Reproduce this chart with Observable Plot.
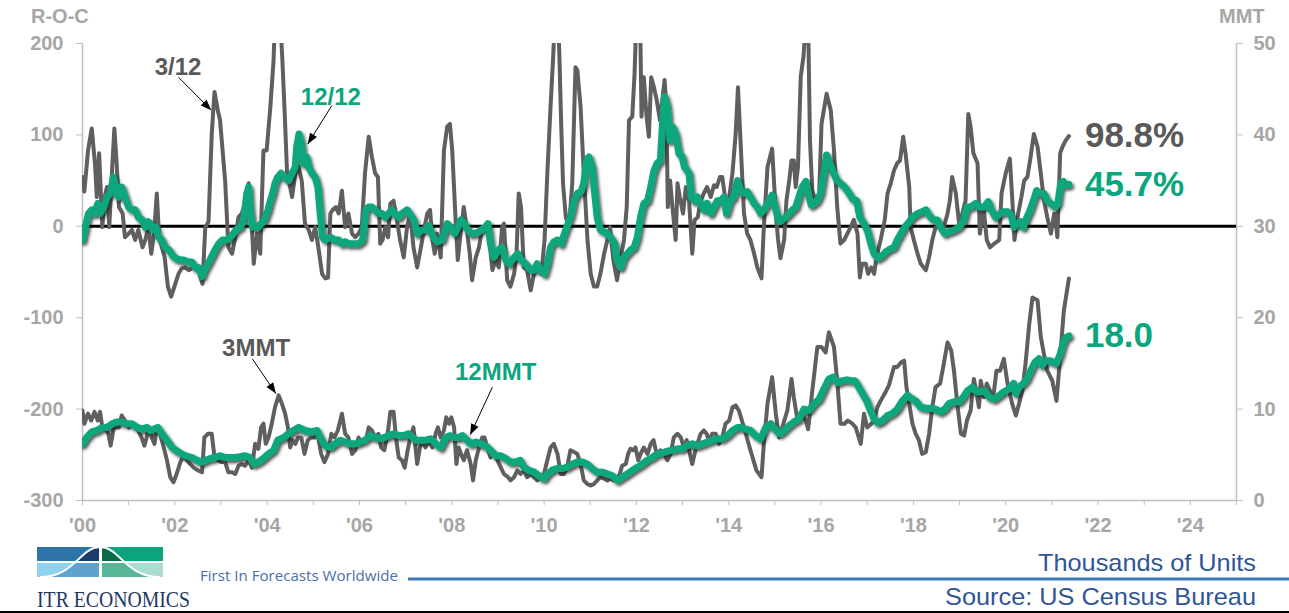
<!DOCTYPE html>
<html>
<head>
<meta charset="utf-8">
<script src="https://cdn.jsdelivr.net/npm/d3@7"></script>
<script src="https://cdn.jsdelivr.net/npm/@observablehq/plot@0.6"></script>
<style>
  html, body { margin: 0; padding: 0; background: #fff; }
  #wrap { position: relative; width: 1289px; height: 613px; overflow: hidden; font-family: "Liberation Sans", Arial, sans-serif; }
  #chart { position: absolute; left: 0; top: 0; }
  .axis-title { position: absolute; top: 5px; font-size: 20px; font-weight: bold; color: #a6a6a6; }
  #footer { position: absolute; left: 0; top: 540px; }
</style>
</head>
<body>
<div id="wrap">
  <div id="chart"></div>
  <div class="axis-title" style="left:31px">R-O-C</div>
  <div class="axis-title" style="left:1219px">MMT</div>
  <svg id="footer" width="1289" height="73" viewBox="0 0 1289 73">
    <defs>
      <clipPath id="bell">
        <path d="M37,37 L40,37 C75,37 80,7 100,7 C120,7 125,37 160,37 L163,37 Z"/>
      </clipPath>
    </defs>
    <!-- logo tiles: outer tone, then the tone under the bell curve -->
    <rect x="37" y="7" width="62" height="14" fill="#2f74a9"/>
    <rect x="102" y="7" width="61" height="14" fill="#0aa57c"/>
    <rect x="37" y="23" width="62" height="14" fill="#8fd2f0"/>
    <rect x="102" y="23" width="61" height="14" fill="#a9ddd2"/>
    <g clip-path="url(#bell)">
      <rect x="37" y="7" width="62" height="14" fill="#1b3b6a"/>
      <rect x="102" y="7" width="61" height="14" fill="#0b6a46"/>
      <rect x="37" y="23" width="62" height="14" fill="#5ea3d0"/>
      <rect x="102" y="23" width="61" height="14" fill="#57b698"/>
    </g>
    <path d="M40,37 C75,37 80,7 100,7 C120,7 125,37 160,37" fill="none" stroke="#fff" stroke-width="2"/>
    <text x="37" y="67" font-family="'Liberation Serif', 'Times New Roman', serif" font-size="23" fill="#1f3864" textLength="153" lengthAdjust="spacingAndGlyphs">ITR ECONOMICS</text>
    <text x="200" y="41" font-family="'Open Sans', 'Noto Sans', sans-serif" font-size="14.5" fill="#4a6fa8" textLength="198" lengthAdjust="spacingAndGlyphs">First In Forecasts Worldwide</text>
    <line x1="408" y1="39" x2="1289" y2="39" stroke="#3b79b7" stroke-width="3"/>
    <text x="1256" y="31" text-anchor="end" font-family="'Liberation Sans', Arial, sans-serif" font-size="24" fill="#2f5597" textLength="218" lengthAdjust="spacingAndGlyphs">Thousands of Units</text>
    <text x="1256" y="65" text-anchor="end" font-family="'Liberation Sans', Arial, sans-serif" font-size="24" fill="#2f5597" textLength="311" lengthAdjust="spacingAndGlyphs">Source: US Census Bureau</text>
    <line x1="0" y1="72" x2="1289" y2="72" stroke="#000" stroke-width="2"/>
  </svg>
</div>
<script>
// 3/12 rate-of-change (%), [decimal year, value]
const rate312 = [
  [2000.00,54],[2000.04,38],[2000.12,83],[2000.20,107],[2000.27,69],[2000.31,32],[2000.36,80],[2000.43,-1],[2000.48,32],[2000.53,43],[2000.58,-1],[2000.64,61],[2000.69,107],[2000.74,69],[2000.79,21],[2000.87,14],[2000.92,-12],
  [2001.00,-8],[2001.07,-4],[2001.14,-15],[2001.21,-4],[2001.30,-23],[2001.36,-15],[2001.43,-1],[2001.49,-30],[2001.55,-8],[2001.61,36],[2001.66,-12],[2001.72,-23],[2001.78,-34],[2001.85,-66],[2001.92,-77],
  [2002.01,-63],[2002.08,-52],[2002.15,-46],[2002.22,-45],[2002.30,-48],[2002.41,-45],[2002.51,-48],[2002.60,-63],[2002.66,-1],[2002.73,5],[2002.80,101],[2002.86,147],[2002.93,127],[2002.98,116],
  [2003.09,50],[2003.16,-23],[2003.24,-30],[2003.31,-12],[2003.38,10],[2003.45,14],[2003.52,25],[2003.60,47],[2003.65,18],[2003.71,-41],[2003.78,-8],[2003.85,-30],[2003.92,83],[2003.99,83],
  [2004.07,131],[2004.14,182],[2004.17,230],[2004.28,230],[2004.33,182],[2004.39,112],[2004.43,61],[2004.54,32],[2004.61,58],[2004.68,65],[2004.75,50],[2004.82,3],[2004.90,-4],[2004.97,-15],
  [2005.04,-1],[2005.11,-23],[2005.19,-52],[2005.26,-57],[2005.32,-56],[2005.37,14],[2005.42,18],[2005.49,21],[2005.55,14],[2005.62,39],[2005.69,-1],[2005.76,14],[2005.84,-8],[2005.91,-12],[2005.98,-8],
  [2006.05,-1],[2006.12,58],[2006.20,98],[2006.27,76],[2006.34,58],[2006.40,54],[2006.45,-19],[2006.50,-15],[2006.56,-1],[2006.62,-12],[2006.67,25],[2006.74,28],[2006.81,7],[2006.88,-15],[2006.96,-34],
  [2007.03,-1],[2007.10,14],[2007.17,-23],[2007.25,-45],[2007.32,-26],[2007.41,-1],[2007.47,14],[2007.53,18],[2007.58,-15],[2007.63,-30],[2007.68,-8],[2007.76,-34],[2007.83,83],[2007.90,109],[2007.96,112],
  [2008.01,83],[2008.08,10],[2008.13,-37],[2008.19,-8],[2008.26,21],[2008.32,-1],[2008.39,-30],[2008.44,-59],[2008.52,-34],[2008.59,-23],[2008.66,-1],[2008.73,-4],[2008.80,-8],[2008.88,-48],[2008.95,-37],
  [2009.02,-45],[2009.09,-1],[2009.13,3],[2009.20,-59],[2009.27,-66],[2009.35,-52],[2009.40,-34],[2009.45,36],[2009.50,21],[2009.56,-45],[2009.63,-48],[2009.71,-70],[2009.78,-52],[2009.85,-45],[2009.94,-52],
  [2010.01,-15],[2010.07,58],[2010.14,131],[2010.20,189],[2010.23,230],[2010.30,230],[2010.33,189],[2010.37,112],[2010.41,47],[2010.47,10],[2010.54,-1],[2010.61,47],[2010.68,174],[2010.72,171],[2010.79,131],[2010.86,58],[2010.94,-15],
  [2011.01,-52],[2011.08,-66],[2011.15,-66],[2011.22,-52],[2011.30,-30],[2011.37,-15],[2011.43,-1],[2011.50,-37],[2011.58,-59],[2011.66,-34],[2011.73,-15],[2011.79,21],[2011.84,116],[2011.91,120],[2011.96,167],
  [2012.00,230],[2012.08,230],[2012.11,120],[2012.16,163],[2012.22,120],[2012.27,98],[2012.32,163],[2012.38,152],[2012.44,138],[2012.51,116],[2012.56,138],[2012.61,160],[2012.65,131],[2012.68,21],[2012.73,50],[2012.78,21],[2012.85,-15],[2012.89,47],[2012.94,32],
  [2013.01,14],[2013.07,43],[2013.14,28],[2013.21,-30],[2013.26,7],[2013.33,10],[2013.39,28],[2013.46,36],[2013.53,43],[2013.61,32],[2013.68,45],[2013.74,43],[2013.81,54],[2013.86,54],[2013.93,28],
  [2014.00,28],[2014.08,58],[2014.15,101],[2014.20,152],[2014.33,14],[2014.40,-8],[2014.47,-15],[2014.55,-30],[2014.62,-45],[2014.71,-57],[2014.76,-1],[2014.84,65],[2014.94,85],
  [2015.02,14],[2015.07,-15],[2015.12,-35],[2015.20,-15],[2015.25,28],[2015.31,50],[2015.36,72],[2015.41,72],[2015.45,43],[2015.50,65],[2015.56,164],[2015.62,186],[2015.67,225],[2015.72,225],[2015.76,94],[2015.81,39],[2015.88,28],[2015.96,36],
  [2016.01,112],[2016.12,145],[2016.21,127],[2016.28,83],[2016.35,21],[2016.42,-19],[2016.50,-15],[2016.57,-8],[2016.64,-1],[2016.71,7],[2016.79,-8],[2016.84,-56],[2016.89,-41],[2016.97,-41],
  [2017.02,-52],[2017.09,-45],[2017.15,-52],[2017.20,-34],[2017.29,-15],[2017.38,7],[2017.44,36],[2017.51,47],[2017.58,61],[2017.65,69],[2017.71,72],[2017.78,98],[2017.83,80],[2017.91,43],[2017.94,-1],
  [2018.01,-15],[2018.09,-30],[2018.16,-41],[2018.27,-48],[2018.34,-34],[2018.41,-15],[2018.48,-1],[2018.58,-1],[2018.66,-1],[2018.74,14],[2018.79,28],[2018.84,54],[2018.92,36],[2018.99,3],
  [2019.06,14],[2019.13,28],[2019.19,123],[2019.24,109],[2019.30,80],[2019.39,69],[2019.44,-8],[2019.52,21],[2019.59,-15],[2019.66,-23],[2019.75,-19],[2019.86,-15],[2019.91,36],
  [2020.00,58],[2020.09,74],[2020.14,32],[2020.19,-15],[2020.27,14],[2020.34,32],[2020.40,50],[2020.47,54],[2020.54,76],[2020.61,101],[2020.69,87],[2020.76,58],[2020.83,28],[2020.90,10],[2020.98,-8],
  [2021.05,14],[2021.08,7],[2021.12,-12],[2021.18,80],[2021.23,87],[2021.30,94],[2021.37,98.8]
];

// 12/12 rate-of-change (%)
const rate1212 = [
  [2000.00,-15],[2000.06,-1],[2000.13,14],[2000.20,18],[2000.26,14],[2000.33,25],[2000.38,14],[2000.46,21],[2000.53,32],[2000.60,36],[2000.67,54],[2000.72,43],[2000.78,32],[2000.85,43],[2000.92,32],
  [2001.00,21],[2001.07,18],[2001.14,18],[2001.21,10],[2001.29,7],[2001.36,-1],[2001.42,5],[2001.47,3],[2001.52,-4],[2001.59,-1],[2001.65,-12],[2001.72,-15],[2001.79,-23],[2001.88,-26],[2001.95,-32],
  [2002.02,-35],[2002.12,-37],[2002.19,-37],[2002.30,-39],[2002.37,-39],[2002.44,-45],[2002.51,-45],[2002.59,-55],[2002.64,-48],[2002.72,-41],[2002.79,-34],[2002.87,-26],[2002.95,-19],
  [2003.03,-15],[2003.13,-15],[2003.20,-12],[2003.27,-8],[2003.34,-3],[2003.42,-1],[2003.49,7],[2003.56,36],[2003.60,43],[2003.63,21],[2003.68,-1],[2003.74,1],[2003.81,-1],[2003.87,3],[2003.94,7],
  [2004.02,18],[2004.07,28],[2004.12,36],[2004.17,47],[2004.23,54],[2004.30,58],[2004.38,54],[2004.46,50],[2004.54,58],[2004.61,65],[2004.64,87],[2004.69,101],[2004.74,91],[2004.79,69],[2004.85,76],[2004.90,65],[2004.97,58],
  [2005.04,54],[2005.10,43],[2005.15,14],[2005.20,-12],[2005.26,-15],[2005.37,-12],[2005.46,-15],[2005.55,-15],[2005.62,-19],[2005.69,-17],[2005.76,-19],[2005.87,-19],[2005.98,-19],
  [2006.07,-15],[2006.14,18],[2006.20,21],[2006.27,21],[2006.34,18],[2006.41,14],[2006.49,14],[2006.56,10],[2006.63,14],[2006.70,18],[2006.77,14],[2006.85,10],[2006.92,14],
  [2007.03,18],[2007.18,7],[2007.25,-8],[2007.36,-4],[2007.43,-4],[2007.50,1],[2007.58,-10],[2007.68,-17],[2007.79,-15],[2007.90,3],[2007.97,-1],
  [2008.06,-8],[2008.13,-1],[2008.20,7],[2008.28,3],[2008.35,-4],[2008.42,-8],[2008.49,-8],[2008.59,-6],[2008.66,-3],[2008.73,-1],[2008.78,3],[2008.84,-19],[2008.91,-34],
  [2009.00,-26],[2009.09,-23],[2009.17,-37],[2009.24,-41],[2009.35,-34],[2009.43,-30],[2009.50,-37],[2009.60,-41],[2009.71,-48],[2009.78,-48],[2009.85,-41],[2009.92,-48],
  [2010.01,-52],[2010.07,-41],[2010.14,-23],[2010.21,-17],[2010.29,-15],[2010.37,-19],[2010.44,-8],[2010.52,3],[2010.59,14],[2010.65,28],[2010.72,36],[2010.80,38],[2010.86,47],[2010.92,72],[2010.97,76],
  [2011.04,65],[2011.09,39],[2011.15,10],[2011.22,-4],[2011.30,-6],[2011.37,-8],[2011.44,-12],[2011.53,-19],[2011.58,-37],[2011.66,-45],[2011.73,-34],[2011.80,-30],[2011.87,-26],[2011.95,-23],
  [2012.02,-12],[2012.09,10],[2012.16,25],[2012.24,28],[2012.31,43],[2012.38,61],[2012.45,69],[2012.52,72],[2012.57,116],[2012.61,142],[2012.67,131],[2012.73,94],[2012.78,109],[2012.85,101],[2012.92,80],[2012.99,76],
  [2013.04,65],[2013.14,58],[2013.19,32],[2013.25,28],[2013.32,32],[2013.39,25],[2013.46,18],[2013.53,25],[2013.61,14],[2013.68,21],[2013.75,28],[2013.82,28],[2013.90,32],[2013.95,14],
  [2014.03,28],[2014.11,32],[2014.19,50],[2014.26,39],[2014.33,36],[2014.40,38],[2014.47,32],[2014.55,25],[2014.62,21],[2014.69,14],[2014.76,18],[2014.84,25],[2014.94,34],
  [2015.02,18],[2015.09,5],[2015.16,7],[2015.23,10],[2015.31,14],[2015.38,18],[2015.45,21],[2015.52,32],[2015.59,43],[2015.67,49],[2015.74,32],[2015.79,23],[2015.85,25],[2015.92,28],[2015.99,36],
  [2016.06,58],[2016.12,78],[2016.19,69],[2016.27,58],[2016.35,50],[2016.42,47],[2016.51,43],[2016.61,36],[2016.68,30],[2016.77,28],[2016.84,10],[2016.93,3],
  [2017.00,-4],[2017.08,-19],[2017.15,-30],[2017.23,-35],[2017.33,-32],[2017.40,-28],[2017.49,-25],[2017.58,-23],[2017.65,-15],[2017.73,-8],[2017.81,-1],[2017.91,5],[2017.98,10],
  [2018.09,14],[2018.19,16],[2018.27,18],[2018.34,12],[2018.43,7],[2018.52,7],[2018.59,-1],[2018.68,-8],[2018.77,-6],[2018.88,-4],[2018.99,-1],
  [2019.08,5],[2019.16,21],[2019.24,21],[2019.35,25],[2019.44,21],[2019.53,21],[2019.62,27],[2019.69,18],[2019.78,10],[2019.88,14],[2019.96,16],
  [2020.04,16],[2020.12,12],[2020.18,-1],[2020.25,3],[2020.33,5],[2020.38,-1],[2020.46,10],[2020.53,18],[2020.60,28],[2020.67,39],[2020.74,36],[2020.83,36],[2020.90,28],[2020.98,25],
  [2021.08,21],[2021.13,25],[2021.19,47],[2021.25,49],[2021.30,45],[2021.37,45.7]
];

// 3-month moving total (thousands of units)
const total3 = [
  [2000.00,9.85],[2000.04,8.4],[2000.12,9.5],[2000.19,8.75],[2000.26,9.7],[2000.33,8.75],[2000.38,9.7],[2000.43,8.0],[2000.49,8.0],[2000.56,7.3],[2000.61,6.0],[2000.67,7.8],[2000.72,8.0],[2000.79,8.0],[2000.85,9.3],[2000.92,8.75],
  [2001.00,8.0],[2001.07,8.4],[2001.14,8.0],[2001.21,7.66],[2001.29,6.75],[2001.34,6.0],[2001.39,6.9],[2001.44,8.0],[2001.50,6.9],[2001.56,6.2],[2001.61,8.0],[2001.68,7.3],[2001.76,5.8],[2001.83,4.4],[2001.90,2.55],[2001.97,2.0],
  [2002.04,2.9],[2002.12,4.2],[2002.19,4.9],[2002.26,4.4],[2002.33,4.0],[2002.41,3.6],[2002.50,3.3],[2002.59,3.1],[2002.64,6.9],[2002.72,7.3],[2002.80,7.3],[2002.86,4.7],[2002.93,4.4],
  [2003.00,4.2],[2003.09,4.2],[2003.16,3.1],[2003.24,3.1],[2003.31,2.9],[2003.38,3.8],[2003.45,4.0],[2003.52,3.8],[2003.60,4.4],[2003.67,3.6],[2003.74,6.2],[2003.81,5.65],[2003.87,8.0],[2003.92,8.4],[2003.97,6.2],
  [2004.03,6.9],[2004.10,8.4],[2004.17,10.2],[2004.25,11.5],[2004.32,10.6],[2004.39,9.5],[2004.45,8.0],[2004.50,5.8],[2004.55,6.6],[2004.61,6.2],[2004.67,6.9],[2004.74,6.9],[2004.81,5.1],[2004.88,6.6],[2004.95,6.9],
  [2005.03,6.9],[2005.10,7.1],[2005.17,5.1],[2005.24,4.2],[2005.32,5.1],[2005.39,7.3],[2005.46,6.9],[2005.53,7.66],[2005.62,9.5],[2005.69,7.3],[2005.76,6.9],[2005.84,5.1],[2005.91,5.5],[2005.98,6.9],
  [2006.05,6.2],[2006.14,6.6],[2006.20,8.0],[2006.27,7.66],[2006.34,6.9],[2006.41,7.3],[2006.47,5.8],[2006.54,5.5],[2006.62,7.66],[2006.67,9.7],[2006.74,9.7],[2006.79,6.9],[2006.85,4.7],[2006.92,4.4],[2006.98,3.6],
  [2007.03,5.1],[2007.10,6.9],[2007.17,8.0],[2007.25,4.0],[2007.31,5.8],[2007.36,6.6],[2007.43,5.8],[2007.50,6.6],[2007.58,5.8],[2007.65,7.3],[2007.70,8.0],[2007.76,6.9],[2007.83,7.66],[2007.88,9.1],[2007.94,8.4],[2007.99,9.1],
  [2008.05,8.0],[2008.10,4.0],[2008.15,5.8],[2008.20,5.1],[2008.26,4.4],[2008.33,5.5],[2008.41,4.0],[2008.46,2.2],[2008.52,4.4],[2008.59,5.8],[2008.66,6.9],[2008.71,6.9],[2008.77,5.8],[2008.84,4.7],[2008.91,5.1],[2008.99,4.4],
  [2009.06,3.65],[2009.13,2.9],[2009.22,2.55],[2009.27,2.2],[2009.35,2.55],[2009.42,3.3],[2009.49,2.9],[2009.56,3.3],[2009.63,2.55],[2009.71,2.9],[2009.78,2.55],[2009.85,2.2],[2009.92,2.55],[2009.98,2.55],
  [2010.07,4.4],[2010.14,5.8],[2010.21,6.2],[2010.29,5.1],[2010.36,2.9],[2010.43,2.9],[2010.50,3.65],[2010.57,5.5],[2010.65,5.3],[2010.72,5.1],[2010.79,4.0],[2010.86,2.2],[2010.94,1.8],
  [2011.01,1.65],[2011.08,1.8],[2011.15,2.2],[2011.22,2.55],[2011.30,2.4],[2011.37,2.2],[2011.44,2.4],[2011.51,2.2],[2011.58,2.4],[2011.64,2.9],[2011.69,3.8],[2011.77,4.0],[2011.82,5.1],[2011.87,5.65],[2011.93,5.5],[2011.98,5.8],
  [2012.04,4.4],[2012.09,5.1],[2012.16,5.8],[2012.24,5.1],[2012.31,6.2],[2012.37,6.6],[2012.42,5.5],[2012.47,4.9],[2012.52,5.5],[2012.60,5.1],[2012.67,4.4],[2012.74,5.1],[2012.81,6.9],[2012.89,7.3],[2012.96,6.9],
  [2013.03,5.8],[2013.09,6.6],[2013.14,5.5],[2013.21,4.0],[2013.26,5.1],[2013.32,6.2],[2013.39,7.3],[2013.46,7.66],[2013.52,7.3],[2013.57,6.6],[2013.64,7.3],[2013.72,7.3],[2013.79,6.2],[2013.86,6.9],[2013.93,8.4],
  [2014.01,8.75],[2014.08,10.2],[2014.15,10.4],[2014.22,9.85],[2014.37,7.3],[2014.47,5.5],[2014.60,3.3],[2014.71,2.55],[2014.76,6.2],[2014.84,10.6],[2014.94,13.5],
  [2015.02,9.5],[2015.09,6.9],[2015.16,8.0],[2015.27,9.85],[2015.36,13.3],[2015.41,11.3],[2015.49,8.75],[2015.56,9.5],[2015.67,8.75],[2015.72,7.8],[2015.81,12.0],[2015.92,16.8],
  [2016.01,16.8],[2016.10,16.2],[2016.17,18.4],[2016.28,16.8],[2016.35,13.1],[2016.42,8.4],[2016.51,8.4],[2016.58,8.75],[2016.68,8.4],[2016.75,8.0],[2016.86,6.2],[2016.93,9.5],
  [2017.00,8.0],[2017.09,8.4],[2017.15,8.75],[2017.22,10.2],[2017.29,10.9],[2017.38,11.7],[2017.47,12.6],[2017.58,14.6],[2017.65,14.6],[2017.73,15.1],[2017.80,15.3],[2017.85,12.4],[2017.91,10.6],[2017.98,8.4],
  [2018.05,7.3],[2018.12,6.6],[2018.19,5.1],[2018.27,5.3],[2018.34,7.3],[2018.41,10.2],[2018.48,12.4],[2018.58,12.8],[2018.66,15.0],[2018.74,17.3],[2018.82,16.4],[2018.88,14.2],[2018.95,10.6],
  [2019.03,7.3],[2019.10,7.1],[2019.16,8.75],[2019.24,9.85],[2019.31,13.3],[2019.37,11.7],[2019.42,10.2],[2019.46,13.1],[2019.53,11.3],[2019.59,12.8],[2019.66,12.0],[2019.73,11.3],[2019.80,14.2],[2019.88,14.2],[2019.96,15.5],
  [2020.04,12.8],[2020.09,11.7],[2020.14,10.6],[2020.22,9.3],[2020.29,10.6],[2020.36,12.0],[2020.43,15.0],[2020.51,19.3],[2020.58,22.2],[2020.69,21.9],[2020.76,17.9],[2020.83,16.0],[2020.90,14.2],
  [2021.01,13.1],[2021.10,10.9],[2021.18,15.7],[2021.26,20.8],[2021.37,24.3]
];

// 12-month moving total (thousands of units)
const total12 = [
  [2000.00,6.2],[2000.09,6.9],[2000.20,7.5],[2000.31,7.66],[2000.42,8.0],[2000.53,8.0],[2000.64,8.4],[2000.74,8.6],[2000.85,8.6],[2000.96,8.4],
  [2001.07,8.4],[2001.18,8.0],[2001.29,7.8],[2001.39,8.0],[2001.47,7.66],[2001.54,7.8],[2001.63,8.0],[2001.72,7.3],[2001.83,6.6],[2001.94,5.8],
  [2002.08,5.3],[2002.22,4.9],[2002.37,4.7],[2002.48,4.4],[2002.59,4.2],[2002.66,4.4],[2002.77,4.6],[2002.87,4.7],[2002.98,4.9],
  [2003.09,4.7],[2003.20,4.7],[2003.31,4.7],[2003.42,4.8],[2003.52,4.9],[2003.63,4.7],[2003.71,4.0],[2003.81,4.2],[2003.92,4.6],
  [2004.03,5.1],[2004.14,5.5],[2004.23,6.6],[2004.36,6.9],[2004.46,7.3],[2004.57,7.66],[2004.68,8.0],[2004.82,7.66],[2004.97,7.5],
  [2005.08,7.66],[2005.15,6.9],[2005.26,6.0],[2005.37,5.8],[2005.47,6.2],[2005.58,6.6],[2005.69,6.4],[2005.80,6.2],[2005.91,6.2],
  [2006.02,6.4],[2006.12,6.6],[2006.23,7.1],[2006.34,6.9],[2006.45,6.75],[2006.54,6.9],[2006.63,7.1],[2006.74,7.3],[2006.85,7.1],[2006.96,7.1],
  [2007.06,7.3],[2007.22,6.6],[2007.32,6.6],[2007.43,6.6],[2007.54,6.75],[2007.65,6.2],[2007.76,5.8],[2007.87,6.9],[2007.96,7.1],
  [2008.05,6.9],[2008.15,6.9],[2008.23,7.1],[2008.30,6.75],[2008.41,6.2],[2008.52,6.4],[2008.62,6.2],[2008.73,6.0],[2008.84,5.5],[2008.95,4.9],
  [2009.06,4.9],[2009.17,4.6],[2009.27,4.2],[2009.38,4.2],[2009.48,4.4],[2009.56,3.65],[2009.67,3.3],[2009.78,3.1],[2009.89,2.7],
  [2010.00,2.4],[2010.07,2.9],[2010.18,3.35],[2010.28,3.5],[2010.39,3.5],[2010.50,3.65],[2010.61,4.0],[2010.72,4.2],[2010.83,4.2],[2010.93,4.0],
  [2011.04,3.5],[2011.15,3.1],[2011.26,3.1],[2011.37,2.9],[2011.48,2.7],[2011.59,2.2],[2011.69,2.55],[2011.80,2.9],[2011.91,3.3],
  [2012.02,3.65],[2012.13,4.0],[2012.23,4.4],[2012.34,4.7],[2012.45,5.1],[2012.56,5.2],[2012.67,5.4],[2012.78,5.5],[2012.89,5.65],[2012.99,5.65],
  [2013.10,6.0],[2013.21,6.2],[2013.32,6.0],[2013.43,6.2],[2013.54,6.4],[2013.64,6.6],[2013.75,6.75],[2013.86,6.75],[2013.97,7.1],
  [2014.08,7.66],[2014.19,8.0],[2014.26,8.0],[2014.37,7.8],[2014.47,7.66],[2014.58,7.1],[2014.69,6.75],[2014.80,8.0],[2014.91,8.4],
  [2015.02,7.66],[2015.11,7.3],[2015.20,7.66],[2015.31,8.2],[2015.41,8.6],[2015.52,8.9],[2015.63,10.0],[2015.74,9.85],[2015.85,10.6],[2015.96,11.1],
  [2016.06,12.2],[2016.17,13.3],[2016.27,13.5],[2016.35,12.9],[2016.46,13.1],[2016.56,13.2],[2016.64,13.1],[2016.73,13.1],[2016.82,12.4],[2016.92,11.5],[2016.99,10.9],
  [2017.07,9.85],[2017.15,8.9],[2017.23,8.5],[2017.33,8.75],[2017.44,9.3],[2017.54,9.5],[2017.65,10.0],[2017.76,10.9],[2017.87,11.5],[2017.98,11.1],
  [2018.07,10.8],[2018.16,10.2],[2018.27,10.1],[2018.37,10.1],[2018.48,10.0],[2018.59,9.7],[2018.68,10.0],[2018.77,10.6],[2018.88,10.8],[2018.99,10.8],
  [2019.08,11.3],[2019.17,12.0],[2019.28,12.4],[2019.37,11.9],[2019.46,11.9],[2019.55,12.0],[2019.64,11.3],[2019.75,11.1],[2019.86,11.5],[2019.96,11.9],
  [2020.07,12.2],[2020.17,12.8],[2020.22,11.7],[2020.29,12.4],[2020.38,12.8],[2020.46,13.3],[2020.54,14.2],[2020.63,15.1],[2020.72,15.5],[2020.79,14.8],[2020.87,15.3],[2020.96,15.3],
  [2021.05,15.1],[2021.10,15.0],[2021.18,16.0],[2021.25,17.3],[2021.32,17.9],[2021.37,18.0]
];

// Axis ticks and labels
const rocTicks = [-300, -200, -100, 0, 100, 200];
const mmtTicks = [0, 10, 20, 30, 40, 50];
const xTickLabels = ["'00", "'02", "'04", "'06", "'08", "'10", "'12", "'14", "'16", "'18", "'20", "'22", "'24"];

// Series call-outs: label centre and arrow tail/tip, in (year, R-O-C) units
const callouts = [
  {text: "3/12",  tone: "gray",  x: 2002.07, y: 174,  from: [2002.08, 163],  to: [2002.79, 127]},
  {text: "12/12", tone: "green", x: 2005.38, y: 141,  from: [2005.40, 132],  to: [2004.88, 90]},
  {text: "3MMT",  tone: "gray",  x: 2003.76, y: -133, from: [2003.68, -145], to: [2004.19, -183]},
  {text: "12MMT", tone: "green", x: 2008.95, y: -160, from: [2008.88, -176], to: [2008.40, -228]}
];

const GREEN = "#0aa67d";
const LINE_GRAY = "#5f5f5f";
const TEXT_GRAY = "#595959";
const AXIS_TEXT = "#a6a6a6";
const AXIS_LINE = "#bfbfbf";

// The MMT scale shares the frame with R-O-C: 0…50 on the right ↔ −300…200 on the left.
const toRoc = m => m * 10 - 300;
const fromRoc = r => (r + 300) / 10;
const last = arr => arr[arr.length - 1];
const years = d3.range(2000, 2026);
const labelFont = {fontSize: 24, fontWeight: "bold"};

const chart = Plot.plot({
  width: 1289,
  height: 540,
  marginLeft: 82,
  marginRight: 53,
  marginTop: 43,
  marginBottom: 40,
  style: {fontFamily: "'Liberation Sans', Arial, sans-serif", background: "#fff", overflow: "visible"},
  x: {domain: [2000, 2025]},
  y: {domain: [-300, 200]},
  marks: [
    // frame lines
    Plot.ruleX([2000, 2025], {stroke: AXIS_LINE, strokeWidth: 1.5}),
    Plot.ruleY([-300], {stroke: AXIS_LINE, strokeWidth: 1.5}),
    Plot.ruleY([0], {stroke: "#000", strokeWidth: 3}),

    // axes
    Plot.axisX(years, {
      tickSize: 5, tickPadding: 12, stroke: AXIS_LINE, fill: AXIS_TEXT, fontSize: 20, fontWeight: "bold", label: null,
      tickFormat: yr => (yr % 2 === 0 ? (xTickLabels[(yr - 2000) / 2] ?? "") : "")
    }),
    Plot.axisY(rocTicks, {
      anchor: "left", tickSize: 6, tickPadding: 13, stroke: AXIS_LINE, fill: AXIS_TEXT, fontSize: 20, fontWeight: "bold", label: null,
      tickFormat: d => String(d)
    }),
    Plot.axisY(mmtTicks.map(toRoc), {
      anchor: "right", tickSize: 6, tickPadding: 11, stroke: AXIS_LINE, fill: AXIS_TEXT, fontSize: 20, fontWeight: "bold", label: null,
      tickFormat: d => String(fromRoc(d))
    }),

    // short-term lines
    Plot.line(rate312, {x: d => d[0], y: d => d[1], stroke: LINE_GRAY, strokeWidth: 4, strokeLinejoin: "round", clip: true}),
    Plot.line(total3, {x: d => d[0], y: d => toRoc(d[1]), stroke: LINE_GRAY, strokeWidth: 4, strokeLinejoin: "round", clip: true}),

    // annual lines
    Plot.line(rate1212, {x: d => d[0], y: d => d[1], stroke: GREEN, strokeWidth: 7, strokeLinejoin: "round", strokeLinecap: "round", clip: true}),
    Plot.line(total12, {x: d => d[0], y: d => toRoc(d[1]), stroke: GREEN, strokeWidth: 7, strokeLinejoin: "round", strokeLinecap: "round", clip: true}),

    // call-outs
    Plot.link(callouts, {x1: d => d.from[0], y1: d => d.from[1], x2: d => d.to[0], y2: d => d.to[1], stroke: "#000", strokeWidth: 1, markerEnd: "arrow"}),
    Plot.text(callouts.filter(d => d.tone === "gray"), {x: "x", y: "y", text: "text", fill: TEXT_GRAY, ...labelFont}),
    Plot.text(callouts.filter(d => d.tone === "green"), {x: "x", y: "y", text: "text", fill: GREEN, ...labelFont}),

    // latest values
    Plot.text([last(rate312)], {x: d => d[0], y: d => d[1], text: d => `${d[1].toFixed(1)}%`, fill: TEXT_GRAY, textAnchor: "start", dx: 16, fontSize: 35, fontWeight: "bold"}),
    Plot.text([last(rate1212)], {x: d => d[0], y: d => d[1], text: d => `${d[1].toFixed(1)}%`, fill: GREEN, textAnchor: "start", dx: 16, fontSize: 35, fontWeight: "bold"}),
    Plot.text([last(total12)], {x: d => d[0], y: d => toRoc(d[1]), text: d => d[1].toFixed(1), fill: GREEN, textAnchor: "start", dx: 16, fontSize: 35, fontWeight: "bold"})
  ]
});

// Soft drop shadow under the annual lines, filled arrowheads on the call-outs
const svg = d3.select(chart);
svg.insert("defs", ":first-child")
  .append("filter").attr("id", "lift").attr("x", "-2%").attr("y", "-10%").attr("width", "104%").attr("height", "130%")
  .append("feDropShadow").attr("dx", 1.8).attr("dy", 2.2).attr("stdDeviation", 1.4)
  .attr("flood-color", "#1a1a1a").attr("flood-opacity", 0.75);
svg.selectAll(`g[stroke="${GREEN}"]`).attr("filter", "url(#lift)");
svg.selectAll("marker")
  .attr("markerWidth", 12).attr("markerHeight", 12).attr("refX", 5)
  .attr("fill", "#000").attr("stroke", "none")
  .select("path").attr("d", "M-4,-3.4L5,0L-4,3.4Z");

document.getElementById("chart").appendChild(chart);
</script>
</body>
</html>
